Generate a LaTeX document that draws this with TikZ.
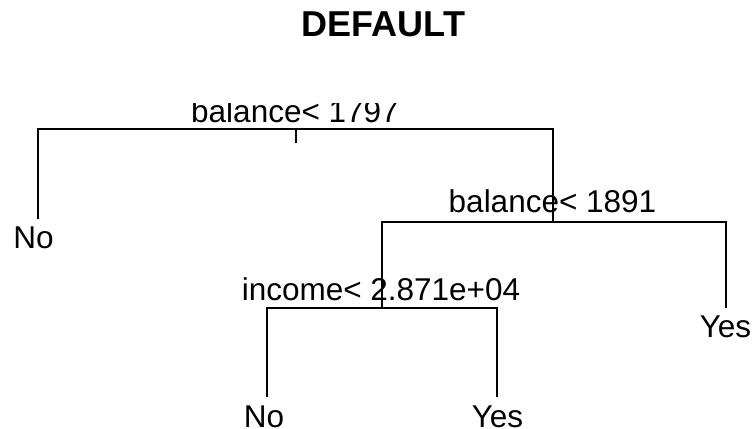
\documentclass[tikz,border=0pt]{standalone}
\usepackage{fontspec}
\setmainfont{Liberation Sans}
\begin{document}
\begin{tikzpicture}[x=1pt,y=-1pt,
  lbl/.style={anchor=base,inner sep=0pt,font=\fontsize{31.5}{38}\selectfont},
  ttl/.style={anchor=base,inner sep=0pt,font=\fontsize{36}{43}\selectfont\bfseries},
  edge/.style={line width=1.5pt}]
\useasboundingbox (0,0) rectangle (754,428);
\node[ttl] (title) at (383.5,37) {DEFAULT};
\begin{scope}
\clip (0,103) rectangle (754,428);
% split points and leaf ends
\coordinate (r) at (296,129);
\coordinate (rs) at (296,143);
\coordinate (n2) at (553,222);
\coordinate (n3) at (382,308);
\coordinate (l1) at (38,219);
\coordinate (l2) at (726,308);
\coordinate (l3) at (267,397);
\coordinate (l4) at (497,397);
% branches
\draw[edge] (rs) -- (r);
\draw[edge] (l1) |- (r) -| (n2);
\draw[edge] (n3) |- (n2) -| (l2);
\draw[edge] (l3) |- (n3) -| (l4);
% labels
\node[lbl] (lr) at (295,122) {balance< 1797};
\node[lbl] (ln2) at (552.5,212) {balance< 1891};
\node[lbl] (ln3) at (381,300) {income< 2.871e+04};
\node[lbl] (t1) at (33.5,248) {No};
\node[lbl] (t2) at (725.5,337) {Yes};
\node[lbl] (t3) at (264,427.5) {No};
\node[lbl] (t4) at (497.5,427.5) {Yes};
\end{scope}
\end{tikzpicture}
\end{document}
